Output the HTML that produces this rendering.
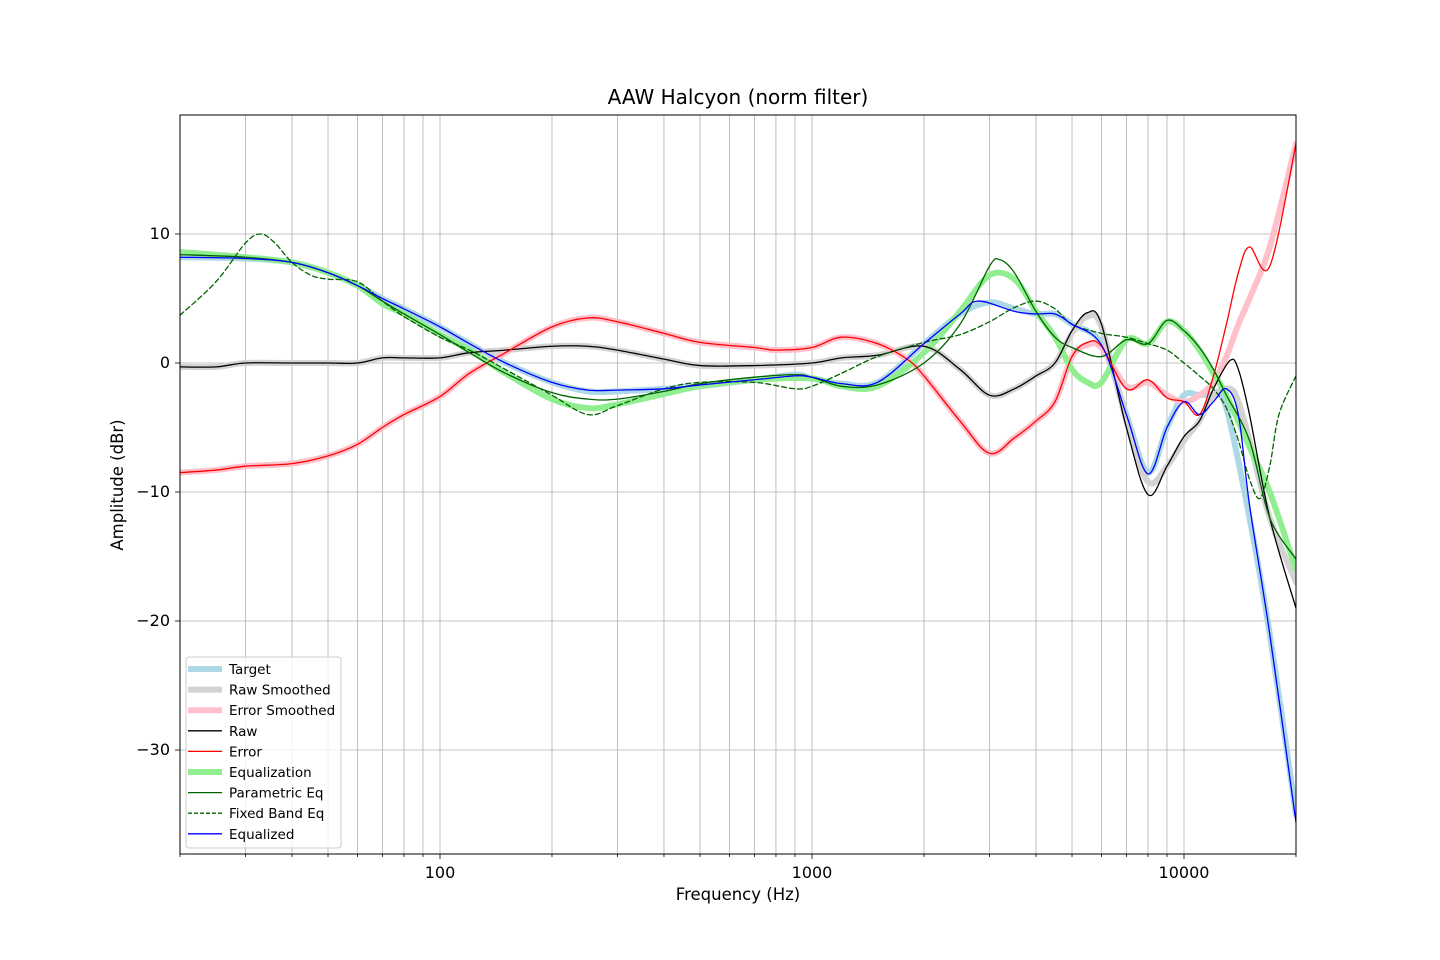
<!DOCTYPE html>
<html><head><meta charset="utf-8"><style>
html,body{margin:0;padding:0;background:#fff;}
svg{display:block;font-family:"DejaVu Sans","Liberation Sans",sans-serif;}
</style></head><body>
<svg id="chart" width="1440" height="960">
<rect x="0" y="0" width="1440" height="960" fill="#fff"/>
<g id="grid"></g>
<g id="series" clip-path="url(#clip)"></g>
<defs><clipPath id="clip"><rect x="180" y="115" width="1116" height="739"/></clipPath></defs>
<rect x="180" y="115" width="1116" height="739" fill="none" stroke="#000" stroke-width="1"/>
<g id="axes"></g>
<text x="738" y="104" font-size="20" text-anchor="middle">AAW Halcyon (norm filter)</text>
<text x="738" y="900" font-size="16.5" text-anchor="middle">Frequency (Hz)</text>
<text x="123" y="485" font-size="16.5" text-anchor="middle" transform="rotate(-90 123 485)">Amplitude (dBr)</text>
<g id="legend"></g>
</svg>
<script>
const xTicks=[100,1000,10000];
const yTicks=[10,0,-10,-20,-30];
const fTarget=[20,30,40,50,60,70,80,100,120,150,200,250,300,400,500,700,900,1000,1200,1500,2000,2500,3000,3500,4000,4500,5000,6000,7000,8000,9000,10000,11000,12000,13000,15000,17000,20000];
const vTarget=[8.2,8.1,7.8,7,6,5,4.2,2.8,1.5,0,-1.5,-2.2,-2.2,-2,-1.8,-1.3,-0.9,-1.2,-1.6,-1.5,1.5,3.8,4.7,4.2,3.8,3.8,3.0,1.5,-4,-8.5,-5,-2.5,-2.5,-2.5,-3.5,-12,-21,-35];
const fRaw=[20,25,30,40,50,60,70,80,100,120,150,200,250,300,400,500,700,1000,1200,1500,2000,2500,3000,3500,4000,4500,5000,5500,6000,7000,8000,9000,10000,11000,12000,13300,14000,15000,17000,20000];
const vRaw=[-0.3,-0.3,0,0,0,0,0.4,0.4,0.4,0.8,1.0,1.3,1.3,1.0,0.3,-0.2,-0.2,0,0.4,0.6,1.3,-0.5,-2.5,-2,-1,0,2.5,3.9,3,-5,-10.2,-8,-5.7,-4.5,-2,0.2,-0.5,-4,-12,-19];
const vRawSmooth=[-0.3,-0.3,0,0,0,0,0.4,0.4,0.4,0.8,1.0,1.3,1.3,1.0,0.3,-0.2,-0.2,0,0.4,0.6,1.3,-0.5,-2.5,-2,-1,0,2.3,3.6,2.8,-4.5,-9.2,-8,-6,-4.5,-2.5,-2,-3,-6,-12,-17];
const fErr=[20,25,30,40,50,60,70,80,100,120,150,200,250,300,400,500,700,800,1000,1200,1500,1800,2000,2500,3000,3500,4000,4500,5000,5500,6000,7000,8000,9000,10000,11000,12000,13000,14000,15000,17000,20000];
const vErr=[-8.5,-8.3,-8,-7.8,-7.2,-6.3,-5,-4,-2.6,-0.8,0.8,2.8,3.5,3.2,2.3,1.6,1.2,1.0,1.2,2.0,1.5,0.3,-1,-4.5,-7,-5.8,-4.5,-3,0.5,1.6,1.3,-2,-1.3,-2.7,-3,-4,-1,3,7,9,7.5,17];
const vErrSmooth=[-8.5,-8.3,-8,-7.8,-7.2,-6.3,-5,-4,-2.6,-0.8,0.8,2.8,3.5,3.2,2.3,1.6,1.2,1.0,1.2,2.0,1.5,0.3,-1,-4.5,-7,-5.8,-4.5,-3,0.5,1.4,1.2,-1.8,-1.5,-2.5,-3,-2.5,-1.5,0.5,3,5,9,17];
const fEq=[20,30,40,50,60,70,80,100,120,150,200,250,300,400,500,700,1000,1200,1500,2000,2500,3000,3500,4000,4500,5000,5500,6000,7000,8000,9000,10000,11000,12000,13000,15000,17000,20000];
const vEq=[8.6,8.2,7.8,7,6,4.6,3.8,2.2,1,-0.8,-2.8,-3.5,-3.2,-2.4,-1.8,-1.3,-1.2,-1.8,-1.8,0.8,4,6.8,6.5,4,2,-0.5,-1.5,-1.5,1.8,1.5,3.2,2.5,1,-0.8,-2.5,-6.5,-10,-16];
const fPeq=[20,30,40,50,60,70,80,100,120,150,200,250,300,400,500,700,900,1000,1200,1500,2000,2500,3000,3200,3500,4000,4500,5000,6000,7000,8000,9000,10000,11000,12000,13000,15000,17000,20000];
const vPeq=[8.4,8.2,7.8,7,6,4.8,3.8,2.2,0.8,-0.8,-2.3,-2.8,-2.8,-2.2,-1.6,-1.1,-0.9,-1.1,-1.8,-1.7,0,3,7.5,8,7,4,2,1.2,0.5,1.8,1.5,3.3,2.5,1.2,-0.5,-2.5,-6,-12,-15.2];
const fFix=[20,25,30,33,36,40,45,50,60,70,80,100,120,150,200,250,300,400,500,700,900,1000,1200,1500,2000,2500,3000,3500,4000,4500,5000,6000,7000,8000,9000,10000,11000,12000,13000,14000,15000,16000,17000,18000,20000];
const vFix=[3.7,6.3,9.3,10,9.3,7.8,6.8,6.5,6.3,4.8,3.6,2,1,-0.5,-2.5,-4,-3.3,-2,-1.5,-1.5,-2,-1.8,-0.8,0.5,1.6,2.2,3.2,4.3,4.8,4.2,3.0,2.3,2,1.5,1,0,-1,-2,-3.5,-6,-9,-10.5,-8,-4,-1];
const fEqd=[20,30,40,50,60,70,80,100,120,150,200,250,300,400,500,700,900,1000,1200,1500,2000,2500,2800,3500,4000,4500,5000,6000,7000,8000,9000,10000,11000,12000,13000,14000,15000,17000,20000];
const vEqd=[8.2,8.1,7.8,7,6,5,4.2,2.8,1.5,0,-1.5,-2.1,-2.1,-2,-1.7,-1.3,-1.0,-1.1,-1.6,-1.5,1.5,3.8,4.8,4.0,3.8,3.8,3.0,1.4,-4,-8.6,-5,-3,-4,-3,-2,-4,-11,-21,-35.6];

const NS='http://www.w3.org/2000/svg';
const X=f=>440+372*Math.log10(f/100);
const Y=v=>363-12.9*v;
function mk(tag,attrs,parent){const e=document.createElementNS(NS,tag);for(const k in attrs)e.setAttribute(k,attrs[k]);parent.appendChild(e);return e;}
const grid=document.getElementById('grid'),axes=document.getElementById('axes');
for(let d=10;d<=10000;d*=10){for(let m=1;m<10;m++){const f=d*m;if(f<20||f>20000)continue;const x=X(f);
 const gl=mk('line',{x1:x,x2:x,y1:115,y2:854,stroke:'#b0b0b0','stroke-width':0.8},grid);
 
 const major=xTicks.includes(f);
 const t=mk('line',{x1:x,x2:x,y1:854,y2:major?859:857,stroke:'#000','stroke-width':0.8},axes);
 
 if(major){const tx=mk('text',{x:x,y:878,'font-size':16,'text-anchor':'middle'},axes);tx.textContent=f;
  }
}}
yTicks.forEach(v=>{const y=Y(v);
 const gl=mk('line',{x1:180,x2:1296,y1:y,y2:y,stroke:'#b0b0b0','stroke-width':0.8},grid);
 
 const t=mk('line',{x1:175,x2:180,y1:y,y2:y,stroke:'#000','stroke-width':0.8},axes);
 
 const tx=mk('text',{x:170,y:y+5,'font-size':16,'text-anchor':'end'},axes);tx.textContent=(v<0?'\u2212'+(-v):v);
 
});
function pathD(fs,vs){const p=fs.map((f,i)=>[X(f),Y(vs[i])]);let d='M'+p[0][0]+','+p[0][1];
 for(let i=0;i<p.length-1;i++){const p0=p[i-1]||p[i],p1=p[i],p2=p[i+1],p3=p[i+2]||p[i+1];
  const c1=[p1[0]+(p2[0]-p0[0])/6,p1[1]+(p2[1]-p0[1])/6],c2=[p2[0]-(p3[0]-p1[0])/6,p2[1]-(p3[1]-p1[1])/6];
  d+=` C${c1[0]},${c1[1]} ${c2[0]},${c2[1]} ${p2[0]},${p2[1]}`;}return d;}
const series=document.getElementById('series');
const defs=[
 ['target',fTarget,vTarget,'#add8e6',6,'','Target'],
 ['raw-smoothed',fRaw,vRawSmooth,'#d3d3d3',6,'','Raw Smoothed'],
 ['error-smoothed',fErr,vErrSmooth,'#ffc0cb',6,'','Error Smoothed'],
 ['raw',fRaw,vRaw,'#000',1.3,'','Raw'],
 ['error',fErr,vErr,'#ff0000',1.3,'','Error'],
 ['equalization',fEq,vEq,'#90ee90',6,'','Equalization'],
 ['parametric-eq',fPeq,vPeq,'#006400',1.3,'','Parametric Eq'],
 ['fixed-band-eq',fFix,vFix,'#006400',1.3,'5,3','Fixed Band Eq'],
 ['equalized',fEqd,vEqd,'#0000ff',1.3,'','Equalized']];
const order=[0,1,2,5,3,4,6,7,8];
order.forEach(i=>{const s=defs[i];
 const p=mk('path',{d:pathD(s[1],s[2]),fill:'none',stroke:s[3],'stroke-width':s[4],'stroke-linejoin':'round','stroke-linecap':'round'},series);
 if(s[5])p.setAttribute('stroke-dasharray',s[5]);
 
});
const lg=document.getElementById('legend');
const box=mk('rect',{x:186,y:657,width:155,height:191,fill:'#fff','fill-opacity':0.8,stroke:'#ccc',rx:3},lg);

defs.forEach((s,i)=>{const y=669+i*20.6;
 const g=mk('g',{},lg);
 const l=mk('line',{x1:188,x2:222,y1:y,y2:y,stroke:s[3],'stroke-width':s[4]},g);
 if(s[5])l.setAttribute('stroke-dasharray','4,2');
 const t=mk('text',{x:229,y:y+5,'font-size':13.5},g);t.textContent=s[6];
});
</script>
</body></html>
